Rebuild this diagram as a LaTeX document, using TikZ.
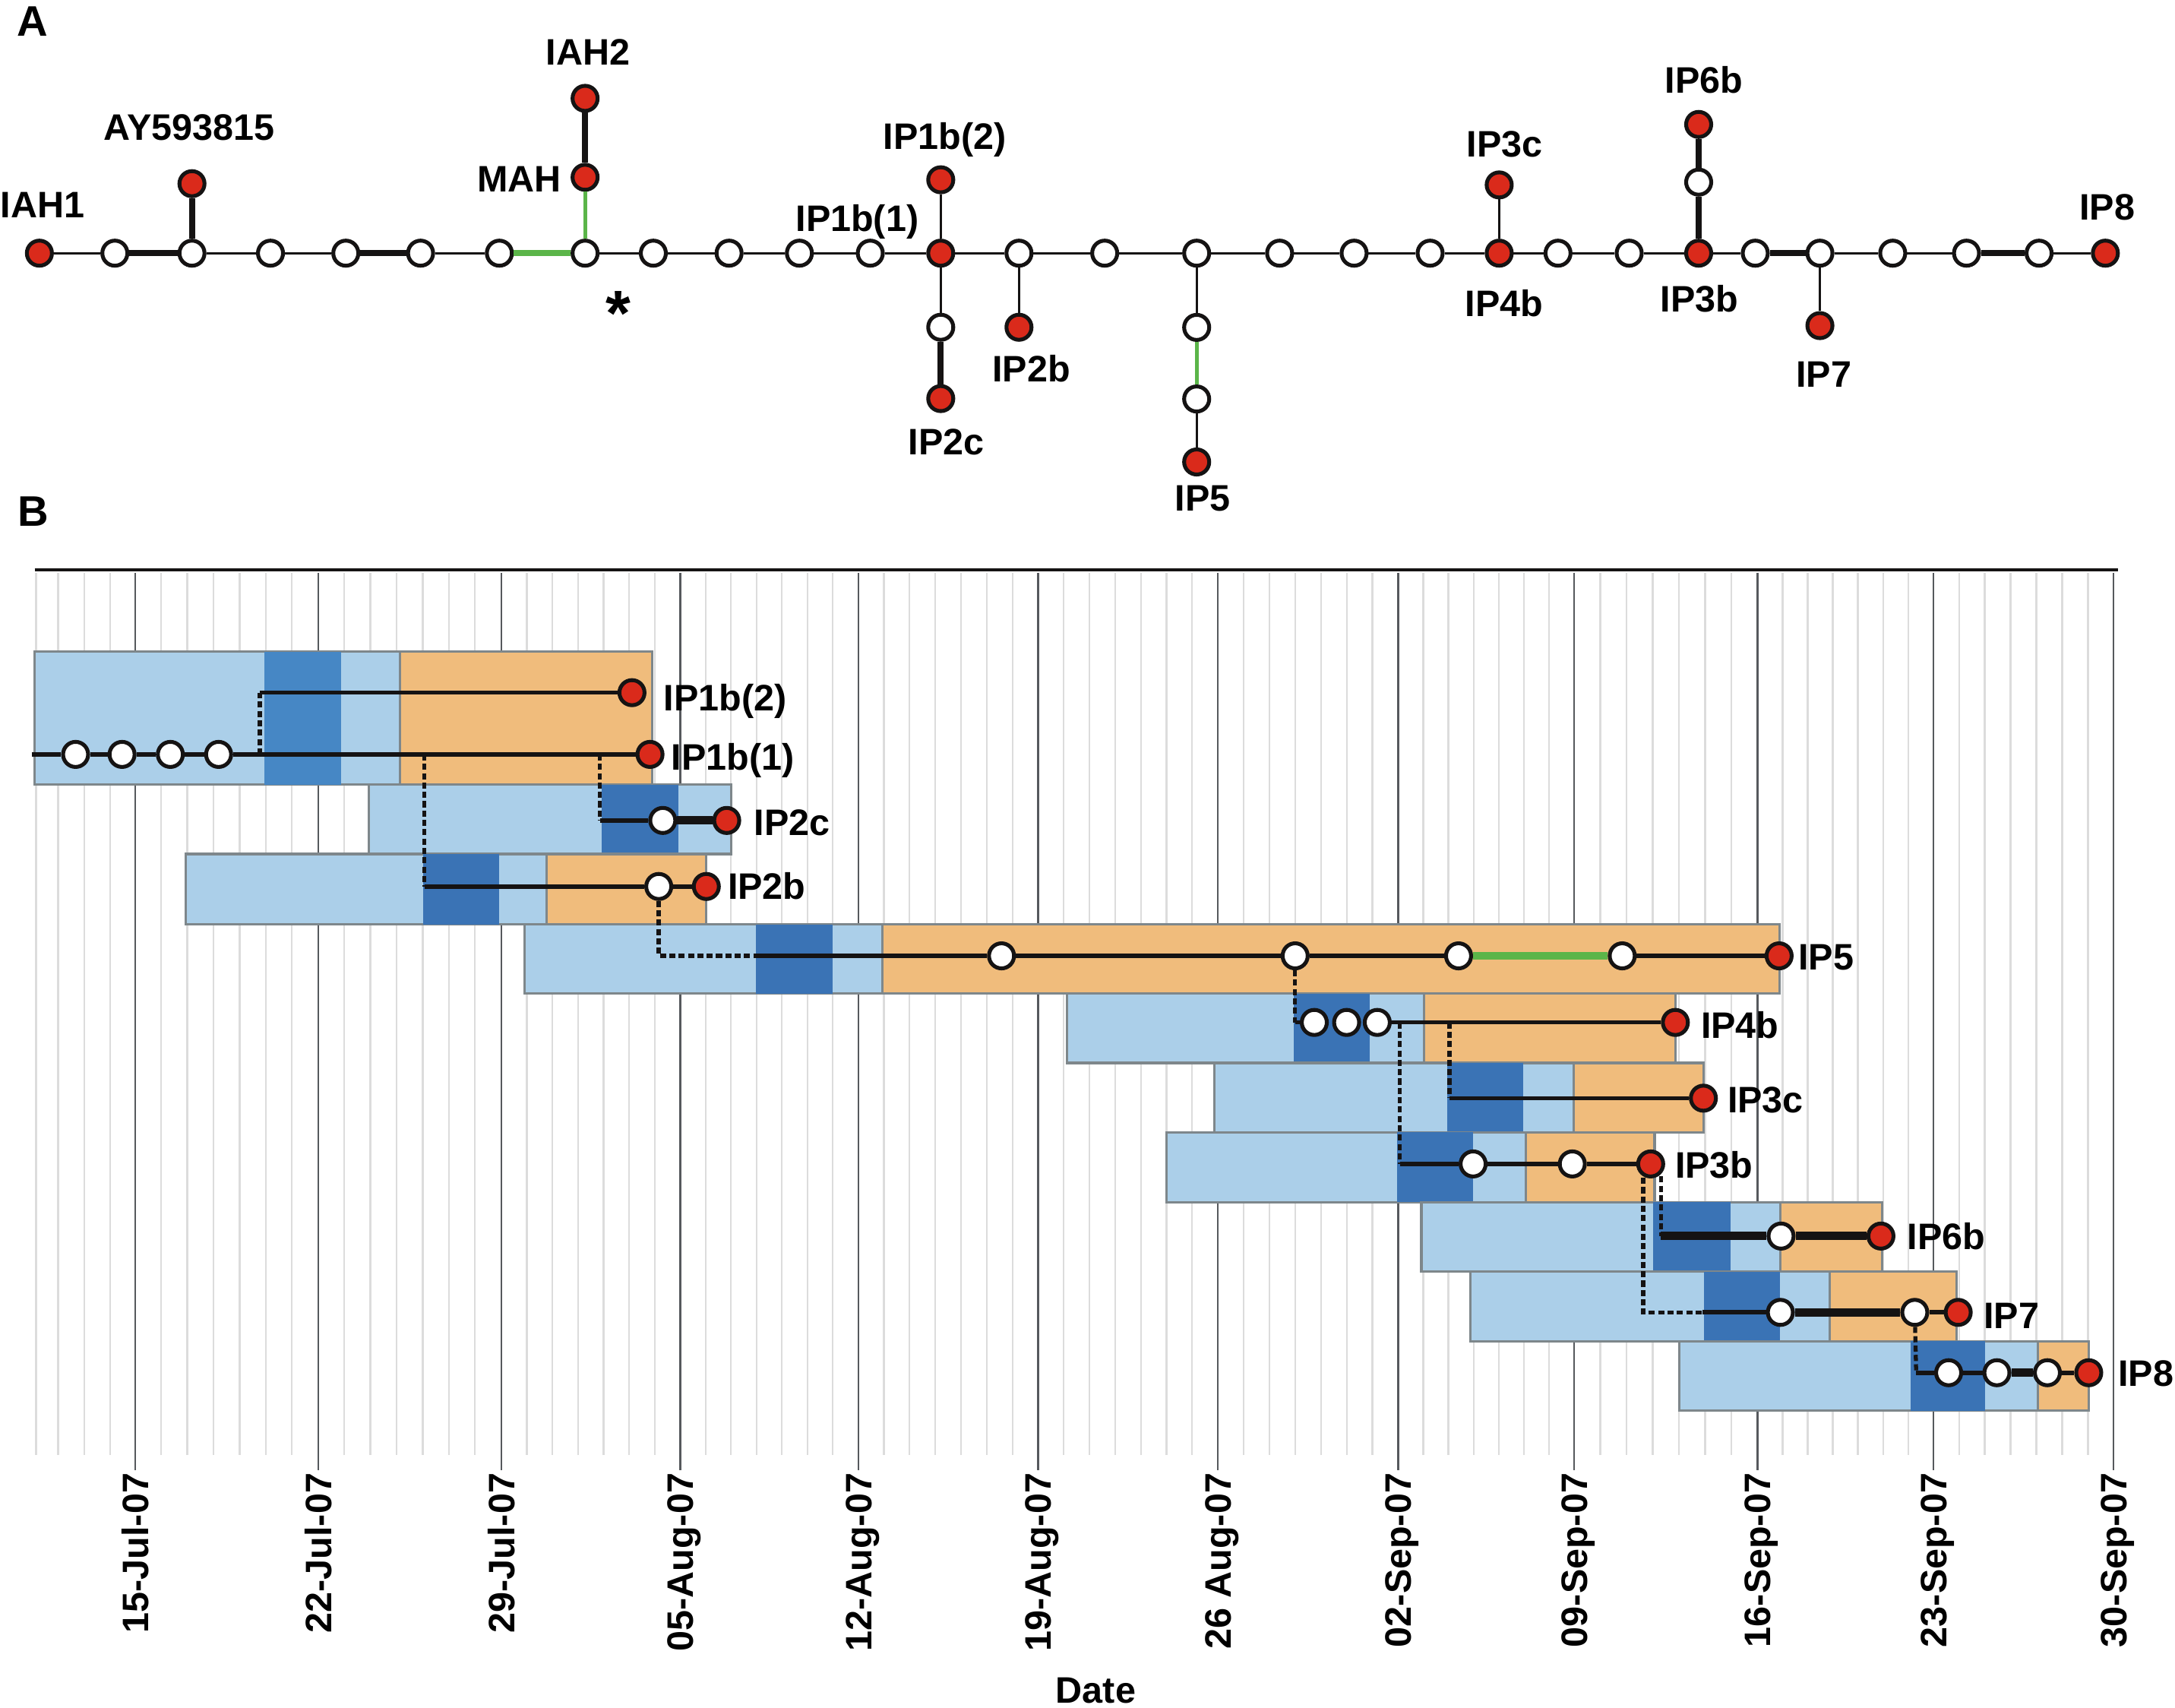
\documentclass[tikz,border=0pt]{standalone}
\usepackage{fontspec}
\setmainfont{Liberation Sans}
\usetikzlibrary{positioning}

\definecolor{lightblu}{HTML}{ABCFE9}
\definecolor{darkblu}{HTML}{3A73B5}
\definecolor{midblu}{HTML}{4687C5}
\definecolor{orng}{HTML}{F0BC7C}
\definecolor{boxgray}{HTML}{7E878B}
\definecolor{redtip}{HTML}{DA2A1B}
\definecolor{grn}{HTML}{5BB549}
\definecolor{weekgray}{HTML}{56595D}
\definecolor{daygray}{HTML}{DCDCDC}
\definecolor{ink}{HTML}{151313}

\begin{document}
\begin{tikzpicture}[x=0.1826mm,y=-0.1826mm,
  lbl/.style={font=\fontsize{13.8}{16}\selectfont\bfseries,inner sep=0pt,text height=9.9pt,text depth=0pt},
  rlbl/.style={lbl,anchor=west},
  datelbl/.style={lbl,rotate=90,anchor=east},
  ttl/.style={font=\fontsize{16}{18}\selectfont\bfseries,inner sep=0pt,text height=11.5pt,text depth=0pt},
  opnode/.style={circle,draw=ink,fill=white,line width=1.45pt,minimum size=3.3mm,inner sep=0pt},
  rdnode/.style={opnode,fill=redtip},
  thn/.style={draw=ink,line width=0.75pt},
  thk/.style={draw=ink,line width=2.2pt},
  gthk/.style={draw=grn,line width=2.2pt},
  gthn/.style={draw=grn,line width=1.5pt},
  lin/.style={draw=ink,line width=1.6pt},
  fat/.style={draw=ink,line width=3.1pt},
  gfat/.style={draw=grn,line width=2.6pt},
  dsh/.style={draw=ink,line width=1.5pt,dash pattern=on 2.3pt off 1.2pt},
  lbox/.style={fill=lightblu,draw=boxgray,line width=0.9pt},
  obox/.style={fill=orng,draw=boxgray,line width=0.9pt},
  daygrid/.style={draw=daygray,line width=0.65pt},
  weekgrid/.style={draw=weekgray,line width=0.65pt}]
\useasboundingbox (0,0) rectangle (1568,1231);

% ---- A: tree
\node[ttl] (pA) at (23.7,14.7) {A};

\node[rdnode] (iah1) at (28.4,182.5) {};
\node[opnode] (a1) at (82.8,182.5) {};
\node[opnode] (a2) at (138.4,182.5) {};
\node[opnode] (a3) at (195,182.5) {};
\node[opnode] (a4) at (249.3,182.5) {};
\node[opnode] (a5) at (303.2,182.5) {};
\node[opnode] (a6) at (360,182.5) {};
\node[opnode] (a7) at (421.8,182.5) {};
\node[opnode] (a8) at (471,182.5) {};
\node[opnode] (a9) at (525.6,182.5) {};
\node[opnode] (a10) at (576.3,182.5) {};
\node[opnode] (a11) at (627.4,182.5) {};
\node[rdnode] (t1b1) at (678.2,182.5) {};
\node[opnode] (a12) at (734.6,182.5) {};
\node[opnode] (a13) at (796.4,182.5) {};
\node[opnode] (a14) at (862.7,182.5) {};
\node[opnode] (a15) at (922.5,182.5) {};
\node[opnode] (a16) at (976.2,182.5) {};
\node[opnode] (a17) at (1031,182.5) {};
\node[rdnode] (t4b) at (1080.8,182.5) {};
\node[opnode] (a18) at (1123.2,182.5) {};
\node[opnode] (a19) at (1174.5,182.5) {};
\node[rdnode] (t3b) at (1224.6,182.5) {};
\node[opnode] (a20) at (1265.4,182.5) {};
\node[opnode] (a21) at (1312,182.5) {};
\node[opnode] (a22) at (1364.5,182.5) {};
\node[opnode] (a23) at (1417.7,182.5) {};
\node[opnode] (a24) at (1470,182.5) {};
\node[rdnode] (t8) at (1517.8,182.5) {};

\node[rdnode] (ay) at (138.4,132.4) {};
\node[rdnode] (mah) at (421.8,127.8) {};
\node[rdnode] (iah2) at (421.8,70.9) {};
\node[rdnode] (t1b2) at (678.2,129.6) {};
\node[opnode] (a25) at (678.2,235.9) {};
\node[rdnode] (t2c) at (678.2,287.3) {};
\node[rdnode] (t2b) at (734.6,235.9) {};
\node[opnode] (a26) at (862.7,236) {};
\node[opnode] (a27) at (862.7,287.6) {};
\node[rdnode] (t5) at (862.7,333) {};
\node[rdnode] (t3c) at (1080.8,133.3) {};
\node[opnode] (a28) at (1224.6,131.3) {};
\node[rdnode] (t6b) at (1224.6,89.7) {};
\node[rdnode] (t7) at (1312,234.7) {};

\draw[thn] (iah1) -- (a1);
\draw[thk] (a1) -- (a2);
\draw[thn] (a2) -- (a3) -- (a4);
\draw[thk] (a4) -- (a5);
\draw[thn] (a5) -- (a6);
\draw[gthk] (a6) -- (a7);
\draw[thn] (a7) -- (a8) -- (a9) -- (a10) -- (a11) -- (t1b1) -- (a12) -- (a13) -- (a14)
  -- (a15) -- (a16) -- (a17) -- (t4b) -- (a18) -- (a19) -- (t3b) -- (a20);
\draw[thk] (a20) -- (a21);
\draw[thn] (a21) -- (a22) -- (a23);
\draw[thk] (a23) -- (a24);
\draw[thn] (a24) -- (t8);

\draw[thk] (a2) -- (ay);
\draw[gthn] (a7) -- (mah);
\draw[thk] (mah) -- (iah2);
\draw[thn] (t1b1) -- (t1b2);
\draw[thn] (t1b1) -- (a25);
\draw[thk] (a25) -- (t2c);
\draw[thn] (a12) -- (t2b);
\draw[thn] (a14) -- (a26);
\draw[gthn] (a26) -- (a27);
\draw[thn] (a27) -- (t5);
\draw[thn] (t4b) -- (t3c);
\draw[thk] (t3b) -- (a28);
\draw[thk] (a28) -- (t6b);
\draw[thn] (a21) -- (t7);

\node[lbl] (liah1) at (30.6,147.5) {IAH1};
\node[lbl] (lay) at (136.5,91.6) {AY593815};
\node[lbl] (liah2) at (423.8,37.2) {IAH2};
\node[lbl] (lmah) at (374.4,128.5) {MAH};
\node[lbl] (lt1b2) at (681,98) {IP1b(2)};
\node[lbl] (lt1b1) at (618,157.4) {IP1b(1)};
\node[lbl] (lt2c) at (682.3,318.4) {IP2c};
\node[lbl] (lt2b) at (743.5,265.9) {IP2b};
\node[lbl] (lt5) at (867.1,358.8) {IP5};
\node[lbl] (lt3c) at (1084.8,103.5) {IP3c};
\node[lbl] (lt4b) at (1084.4,218.4) {IP4b};
\node[lbl] (lt6b) at (1228.4,57.7) {IP6b};
\node[lbl] (lt3b) at (1225.2,215.4) {IP3b};
\node[lbl] (lt7) at (1314.8,269.5) {IP7};
\node[lbl] (lt8) at (1519.1,148.9) {IP8};
\node[font=\fontsize{24}{26}\selectfont\bfseries,inner sep=0pt,anchor=base] (star) at (446,241.9) {*};

% ---- B: time line
\node[ttl] (pB) at (24,368) {B};

\foreach \xg in {26,41.9,60.8,79.6}
  \draw[daygrid] (\xg,412.7) -- (\xg,1048.8);
\foreach \xa/\xb in {97.3/229.3,229.3/361.3,361.3/490.4,490.4/618.7,618.7/748.4,748.4/878,
  878/1008,1008/1134.7,1134.7/1267,1267/1393.7,1393.7/1523.8}
  \foreach \k in {1,...,6}
    \draw[daygrid] ({\xa+\k*(\xb-\xa)/7},412.7) -- ({\xa+\k*(\xb-\xa)/7},1048.8);
\foreach \xw/\dt [count=\i] in {97.3/15-Jul-07,229.3/22-Jul-07,361.3/29-Jul-07,490.4/05-Aug-07,
  618.7/12-Aug-07,748.4/19-Aug-07,878/26 Aug-07,1008/02-Sep-07,1134.7/09-Sep-07,
  1267/16-Sep-07,1393.7/23-Sep-07,1523.8/30-Sep-07}{
  \draw[weekgrid] (\xw,412.7) -- (\xw,1059.7);
  \node[datelbl] (d\i) at (\xw,1061.5) {\dt};
}
\draw[ink,line width=1.2pt] (25,410.6) -- (1527,410.6);
\node[lbl] (xlab) at (790,1218) {Date};

% boxes
\draw[lbox] (25.1,469.7) rectangle (470.3,565.7);
\draw[obox] (288.4,469.7) rectangle (470.3,565.7);
\fill[midblu] (190.7,469.7) rectangle (246,565.7);

\draw[lbox] (266,565.7) rectangle (527.3,615.6);
\fill[darkblu] (433.8,565.7) rectangle (489,615.6);

\draw[lbox] (134,615.6) rectangle (509.2,666.3);
\draw[obox] (394,615.6) rectangle (509.2,666.3);
\fill[darkblu] (305,615.6) rectangle (359.6,666.3);

\draw[lbox] (378,666.3) rectangle (1283,716.2);
\draw[obox] (636.2,666.3) rectangle (1283,716.2);
\fill[darkblu] (545,666.3) rectangle (600,716.2);

\draw[lbox] (769,716.2) rectangle (1207.8,766.2);
\draw[obox] (1026.6,716.2) rectangle (1207.8,766.2);
\fill[darkblu] (932.5,716.2) rectangle (987.7,766.2);

\draw[lbox] (875.6,766.2) rectangle (1228.2,816.2);
\draw[obox] (1134.7,766.2) rectangle (1228.2,816.2);
\fill[darkblu] (1043.5,766.2) rectangle (1098,816.2);

\draw[lbox] (841,816.2) rectangle (1192.8,866.6);
\draw[obox] (1100,816.2) rectangle (1192.8,866.6);
\fill[darkblu] (1007,816.2) rectangle (1062,866.6);

\draw[lbox] (1024.7,866.6) rectangle (1357,916.6);
\draw[obox] (1283.7,866.6) rectangle (1357,916.6);
\fill[darkblu] (1191.6,866.6) rectangle (1247.4,916.6);

\draw[lbox] (1059.8,916.6) rectangle (1410.6,966.8);
\draw[obox] (1319.3,916.6) rectangle (1410.6,966.8);
\fill[darkblu] (1228.2,916.6) rectangle (1283.3,966.8);

\draw[lbox] (1210.8,966.8) rectangle (1505.8,1016.8);
\draw[obox] (1469.2,966.8) rectangle (1505.8,1016.8);
\fill[darkblu] (1377.4,966.8) rectangle (1430.9,1016.8);

% lineages
\coordinate (s0) at (23,543.8);
\node[opnode] (g1) at (54.5,543.8) {};
\node[opnode] (g2) at (88,543.8) {};
\node[opnode] (g3) at (122.8,543.8) {};
\node[opnode] (g4) at (157.6,543.8) {};
\node[rdnode] (b1b1) at (468.6,543.8) {};
\coordinate (c12a) at (187.3,543.8);
\coordinate (c12b) at (187.3,499.3);
\node[rdnode] (b1b2) at (455.6,499.3) {};
\coordinate (c2ca) at (432.5,543.8);
\coordinate (c2cb) at (432.5,591.4);
\node[opnode] (g5) at (477.8,591.4) {};
\node[rdnode] (b2c) at (523.9,591.4) {};
\coordinate (c2ba) at (306,543.8);
\coordinate (c2bb) at (306,639);
\node[opnode] (g6) at (474.9,639) {};
\node[rdnode] (b2b) at (509.2,639) {};
\coordinate (c5a) at (474.9,689);
\coordinate (c5b) at (544,689);
\node[opnode] (g7) at (722,689) {};
\node[opnode] (g8) at (933.7,689) {};
\node[opnode] (g9) at (1051.5,689) {};
\node[opnode] (g10) at (1169.5,689) {};
\node[rdnode] (b5) at (1282.6,689) {};
\coordinate (c4a) at (933.7,737);
\node[opnode] (g11) at (947.5,737) {};
\node[opnode] (g12) at (970.8,737) {};
\node[opnode] (g13) at (992.9,737) {};
\node[rdnode] (b4b) at (1207.8,737) {};
\coordinate (c3ca) at (1045,737);
\coordinate (c3cb) at (1045,791.6);
\node[rdnode] (b3c) at (1228,791.6) {};
\coordinate (c3ba) at (1009.2,737);
\coordinate (c3bb) at (1009.2,839);
\node[opnode] (g14) at (1062,839) {};
\node[opnode] (g15) at (1133.5,839) {};
\node[rdnode] (b3b) at (1190,839) {};
\coordinate (c6a) at (1197.4,848);
\coordinate (c6b) at (1197.4,891);
\node[opnode] (g16) at (1284,891) {};
\node[rdnode] (b6b) at (1356,891) {};
\coordinate (c7a) at (1184.6,849);
\coordinate (c7b) at (1184.6,946);
\coordinate (c7c) at (1227.6,946);
\node[opnode] (g17) at (1283.5,946) {};
\node[opnode] (g18) at (1380.4,946) {};
\node[rdnode] (b7) at (1411.7,946) {};
\coordinate (c8a) at (1381.4,989.5);
\node[opnode] (g19) at (1404.8,989.5) {};
\node[opnode] (g20) at (1439.6,989.5) {};
\node[opnode] (g21) at (1476,989.5) {};
\node[rdnode] (b8) at (1505.8,989.5) {};

\draw[lin] (s0) -- (g1) -- (g2) -- (g3) -- (g4) -- (b1b1);
\draw[dsh] (c12a) -- (c12b);
\draw[lin] (c12b) -- (b1b2);
\draw[dsh] (c2ca) -- (c2cb);
\draw[lin] (c2cb) -- (g5);
\draw[fat] (g5) -- (b2c);
\draw[dsh] (c2ba) -- (c2bb);
\draw[lin] (c2bb) -- (g6) -- (b2b);
\draw[dsh] (g6) -- (c5a) -- (c5b);
\draw[lin] (c5b) -- (g7) -- (g8) -- (g9);
\draw[gfat] (g9) -- (g10);
\draw[lin] (g10) -- (b5);
\draw[dsh] (g8) -- (c4a);
\draw[lin] (c4a) -- (g11);
\draw[lin] (g13) -- (b4b);
\draw[dsh] (c3ca) -- (c3cb);
\draw[lin] (c3cb) -- (b3c);
\draw[dsh] (c3ba) -- (c3bb);
\draw[lin] (c3bb) -- (g14) -- (g15) -- (b3b);
\draw[dsh] (c6a) -- (c6b);
\draw[fat] (c6b) -- (g16) -- (b6b);
\draw[dsh] (c7a) -- (c7b) -- (c7c);
\draw[lin] (c7c) -- (g17);
\draw[fat] (g17) -- (g18);
\draw[lin] (g18) -- (b7);
\draw[dsh] (g18) -- (c8a);
\draw[lin] (c8a) -- (g19) -- (g20);
\draw[fat] (g20) -- (g21);
\draw[lin] (g21) -- (b8);

\node[rlbl] (lb1b2) at (478.2,503) {IP1b(2)};
\node[rlbl] (lb1b1) at (483.6,545.8) {IP1b(1)};
\node[rlbl] (lb2c) at (543.2,592.4) {IP2c};
\node[rlbl] (lb2b) at (524.3,638.8) {IP2b};
\node[rlbl] (lb5) at (1296.2,689.5) {IP5};
\node[rlbl] (lb4b) at (1225.9,738.7) {IP4b};
\node[rlbl] (lb3c) at (1245.1,792.3) {IP3c};
\node[rlbl] (lb3b) at (1207.3,839.5) {IP3b};
\node[rlbl] (lb6b) at (1374.6,891.2) {IP6b};
\node[rlbl] (lb7) at (1429.8,948) {IP7};
\node[rlbl] (lb8) at (1526.8,989.8) {IP8};
\end{tikzpicture}
\end{document}
